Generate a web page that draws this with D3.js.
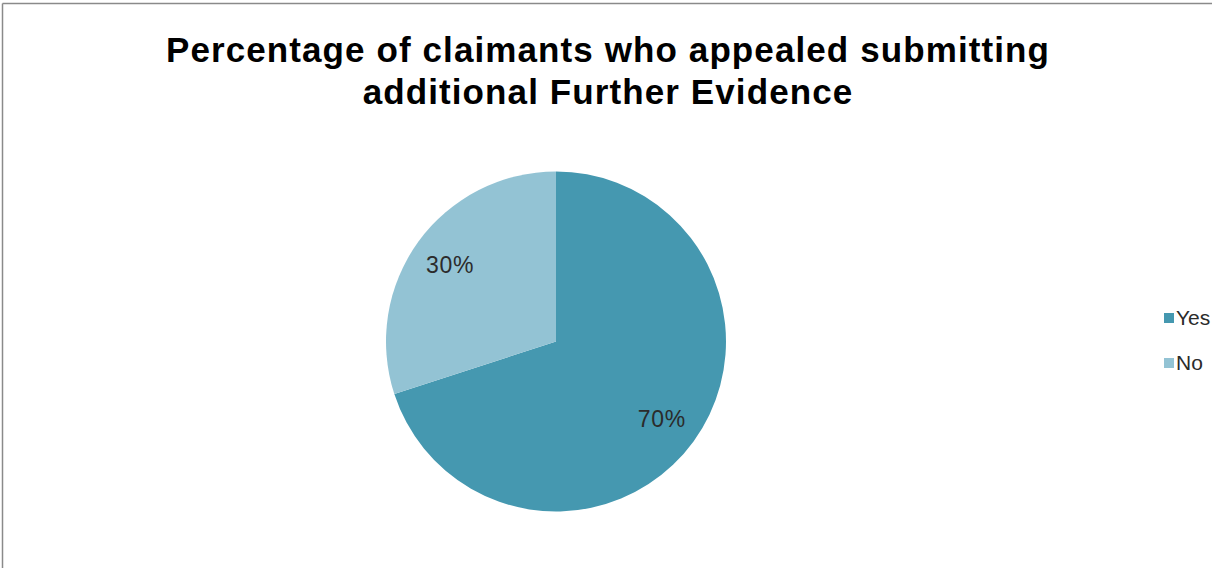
<!DOCTYPE html>
<html>
<head>
<meta charset="utf-8">
<script src="https://cdn.jsdelivr.net/npm/d3@7"></script>
<style>
  html, body { margin: 0; padding: 0; background: #fff; }
  svg { display: block; }
</style>
</head>
<body>
<svg id="chart" width="1212" height="568"></svg>
<script>
const titleLines = ["Percentage of claimants who appealed submitting", "additional Further Evidence"];
const categories = ["Yes", "No"];
const values = [70, 30];
const labels = ["70%", "30%"];
const colors = ["#4598b0", "#93c3d4"];

const svg = d3.select("#chart");
const W = 1212, H = 568;
const font = "Liberation Sans, Arial, sans-serif";

svg.append("rect").attr("x", 0).attr("y", 0).attr("width", W).attr("height", H).attr("fill", "#fff");
svg.append("line").attr("x1", 2.5).attr("y1", 3.5).attr("x2", W).attr("y2", 3.5).attr("stroke", "#8a8a8a").attr("stroke-width", 1.5);
svg.append("line").attr("x1", 2.5).attr("y1", 3.5).attr("x2", 2.5).attr("y2", H).attr("stroke", "#8a8a8a").attr("stroke-width", 1.5);

const title = svg.append("text")
  .attr("text-anchor", "middle")
  .attr("font-family", font)
  .attr("font-weight", "bold")
  .attr("font-size", 35)
  .attr("letter-spacing", 1.1)
  .attr("fill", "#000");
titleLines.forEach((t, i) => {
  title.append("tspan").attr("x", 608).attr("y", 62 + i * 42).text(t);
});

const cx = 556, cy = 341.5, r = 170;
const pie = d3.pie().sort(null).value(d => d)(values);
const arc = d3.arc().innerRadius(0).outerRadius(r);
const labelArc = d3.arc().innerRadius(r * 0.77).outerRadius(r * 0.77);

const g = svg.append("g").attr("transform", `translate(${cx},${cy})`);
g.selectAll("path").data(pie).join("path")
  .attr("d", arc)
  .attr("fill", (d, i) => colors[i]);

g.selectAll("text.lbl").data(pie).join("text")
  .attr("class", "lbl")
  .attr("transform", d => `translate(${labelArc.centroid(d)})`)
  .attr("text-anchor", "middle")
  .attr("dy", "0.35em")
  .attr("font-family", font)
  .attr("font-size", 23)
  .attr("letter-spacing", 0.8)
  .attr("fill", "#2b2b2b")
  .text((d, i) => labels[i]);

const legend = svg.append("g");
categories.forEach((c, i) => {
  const y = 318 + i * 45;
  legend.append("rect").attr("x", 1164).attr("y", y - 5).attr("width", 10).attr("height", 10).attr("fill", colors[i]);
  legend.append("text").attr("x", 1176).attr("y", y).attr("dy", "0.35em")
    .attr("font-family", font)
    .attr("font-size", 21).attr("fill", "#2b2b2b").text(c);
});
</script>
</body>
</html>
